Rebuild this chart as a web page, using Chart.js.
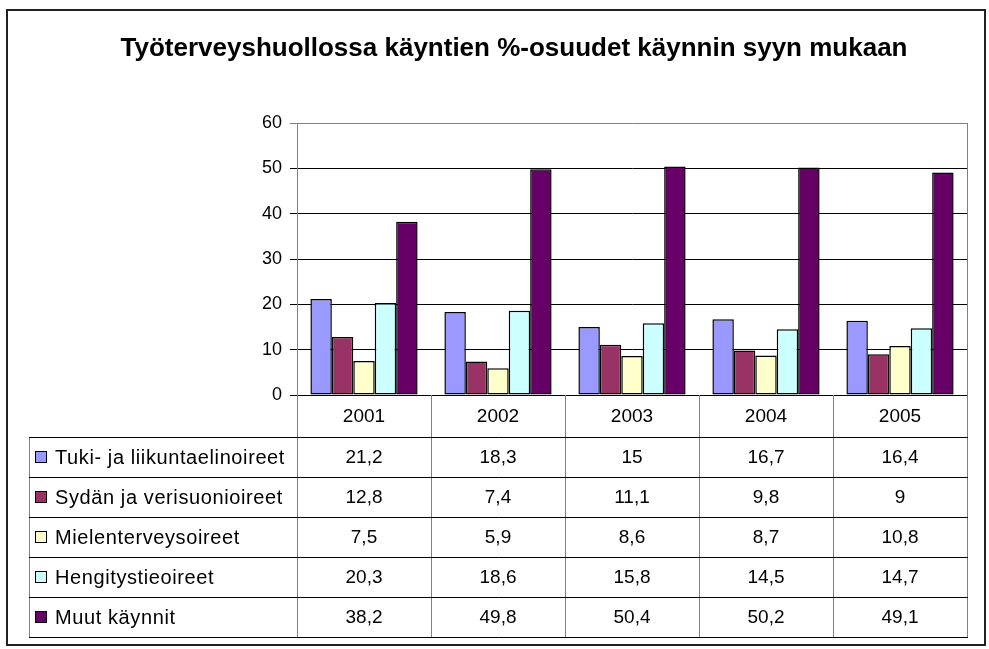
<!DOCTYPE html>
<html>
<head>
<meta charset="utf-8">
<script src="https://cdn.jsdelivr.net/npm/chart.js@4.4.1/dist/chart.umd.min.js"></script>
<style>
  body { margin: 0; background: #fff; }
  canvas { display: block; }
</style>
</head>
<body>
<canvas id="chart" width="989" height="649"></canvas>
<script>
const chartTitle = "Työterveyshuollossa käyntien %-osuudet käynnin syyn mukaan";
const years = ["2001", "2002", "2003", "2004", "2005"];
const seriesNames = ["Tuki- ja liikuntaelinoireet", "Sydän ja verisuonioireet", "Mielenterveysoireet", "Hengitystieoireet", "Muut käynnit"];
const tuki = [21.2, 18.3, 15, 16.7, 16.4];
const sydan = [12.8, 7.4, 11.1, 9.8, 9];
const mielen = [7.5, 5.9, 8.6, 8.7, 10.8];
const hengitys = [20.3, 18.6, 15.8, 14.5, 14.7];
const muut = [38.2, 49.8, 50.4, 50.2, 49.1];
const yTicks = [0, 10, 20, 30, 40, 50, 60];

const colors = ["#9999FF", "#993366", "#FFFFCC", "#CCFFFF", "#660066"];
const seriesValues = [tuki, sydan, mielen, hengitys, muut];
const font = '"Liberation Sans", Arial, sans-serif';

const headerH = 42;
const rowH = 40;
const tableLeft = 29;

function crisp(v) {
  return Math.round(v) + 0.5;
}

// white background, title, frame and the data table under the axis
const tablePlugin = {
  id: "dataTable",
  beforeDraw(chart) {
    const ctx = chart.ctx;
    ctx.save();
    ctx.fillStyle = "#fff";
    ctx.fillRect(0, 0, chart.width, chart.height);
    ctx.restore();
  },
  afterDraw(chart) {
    const ctx = chart.ctx;
    const x = chart.scales.x;
    const area = chart.chartArea;
    const half = (x.getPixelForValue(1) - x.getPixelForValue(0)) / 2;
    const top = area.bottom + headerH;
    const bottom = top + rowH * seriesNames.length;

    ctx.save();

    // outer frame
    ctx.strokeStyle = "#222";
    ctx.lineWidth = 2;
    ctx.strokeRect(7, 10, 978, 635);

    // title
    ctx.fillStyle = "#000";
    ctx.font = "bold 26px " + font;
    ctx.textAlign = "center";
    ctx.textBaseline = "middle";
    ctx.fillText(chartTitle, 514, 49);

    ctx.lineWidth = 1;

    // plot area right border
    ctx.strokeStyle = "#808080";
    ctx.beginPath();
    ctx.moveTo(crisp(area.right), area.top);
    ctx.lineTo(crisp(area.right), area.bottom);
    ctx.stroke();

    // vertical table lines
    ctx.beginPath();
    for (let i = 0; i <= years.length; i++) {
      const px = crisp(x.getPixelForValue(0) - half + i * half * 2);
      ctx.moveTo(px, area.bottom);
      ctx.lineTo(px, bottom);
    }
    ctx.moveTo(crisp(tableLeft), top);
    ctx.lineTo(crisp(tableLeft), bottom);
    ctx.stroke();

    // horizontal table lines
    ctx.strokeStyle = "#000";
    ctx.beginPath();
    for (let r = 0; r <= seriesNames.length; r++) {
      const py = crisp(top + r * rowH);
      ctx.moveTo(tableLeft, py);
      ctx.lineTo(area.right + 1, py);
    }
    ctx.stroke();

    // year header
    ctx.font = "19px " + font;
    ctx.fillStyle = "#000";
    ctx.textAlign = "center";
    years.forEach(function (y, i) {
      ctx.fillText(y, x.getPixelForValue(i), area.bottom + headerH / 2 + 1);
    });

    // rows: legend key, name, values
    seriesNames.forEach(function (name, r) {
      const cy = top + r * rowH + rowH / 2;
      ctx.fillStyle = colors[r];
      ctx.fillRect(35, Math.round(cy - 6), 12, 12);
      ctx.strokeStyle = "#000";
      ctx.strokeRect(35.5, Math.round(cy - 6) + 0.5, 11, 11);
      ctx.fillStyle = "#000";
      ctx.textAlign = "left";
      ctx.font = "20px " + font;
      ctx.letterSpacing = "0.6px";
      ctx.fillText(name, 55, cy + 1);
      ctx.letterSpacing = "0px";
      ctx.font = "19px " + font;
      ctx.textAlign = "center";
      seriesValues[r].forEach(function (v, i) {
        ctx.fillText(String(v).replace(".", ","), x.getPixelForValue(i), cy + 1);
      });
    });

    ctx.restore();
  }
};

const ctx = document.getElementById("chart").getContext("2d");
new Chart(ctx, {
  type: "bar",
  data: {
    labels: years,
    datasets: seriesNames.map(function (name, i) {
      return {
        label: name,
        data: seriesValues[i],
        backgroundColor: colors[i],
        borderColor: "#000",
        borderWidth: 1.5,
        borderSkipped: false,
        categoryPercentage: 0.8,
        barPercentage: 1
      };
    })
  },
  options: {
    responsive: false,
    animation: false,
    layout: { padding: { top: 123, right: 22, bottom: 0, left: 0 } },
    plugins: {
      legend: { display: false },
      title: { display: false },
      tooltip: { enabled: false }
    },
    scales: {
      x: {
        grid: { display: false },
        border: { display: true, color: "#000" },
        ticks: { display: false },
        afterFit: function (scale) { scale.height = 649 - 395; }
      },
      y: {
        min: 0,
        max: 60,
        afterBuildTicks: function (scale) {
          scale.ticks = yTicks.map(function (v) { return { value: v }; });
        },
        afterFit: function (scale) { scale.width = 297; },
        grid: {
          color: function (c) { return c.tick && c.tick.value === 60 ? "#808080" : "#000"; },
          tickLength: 7
        },
        border: { color: "#808080" },
        ticks: {
          color: "#000",
          padding: 8,
          font: { family: font, size: 18 }
        }
      }
    }
  },
  plugins: [tablePlugin]
});
</script>
</body>
</html>
